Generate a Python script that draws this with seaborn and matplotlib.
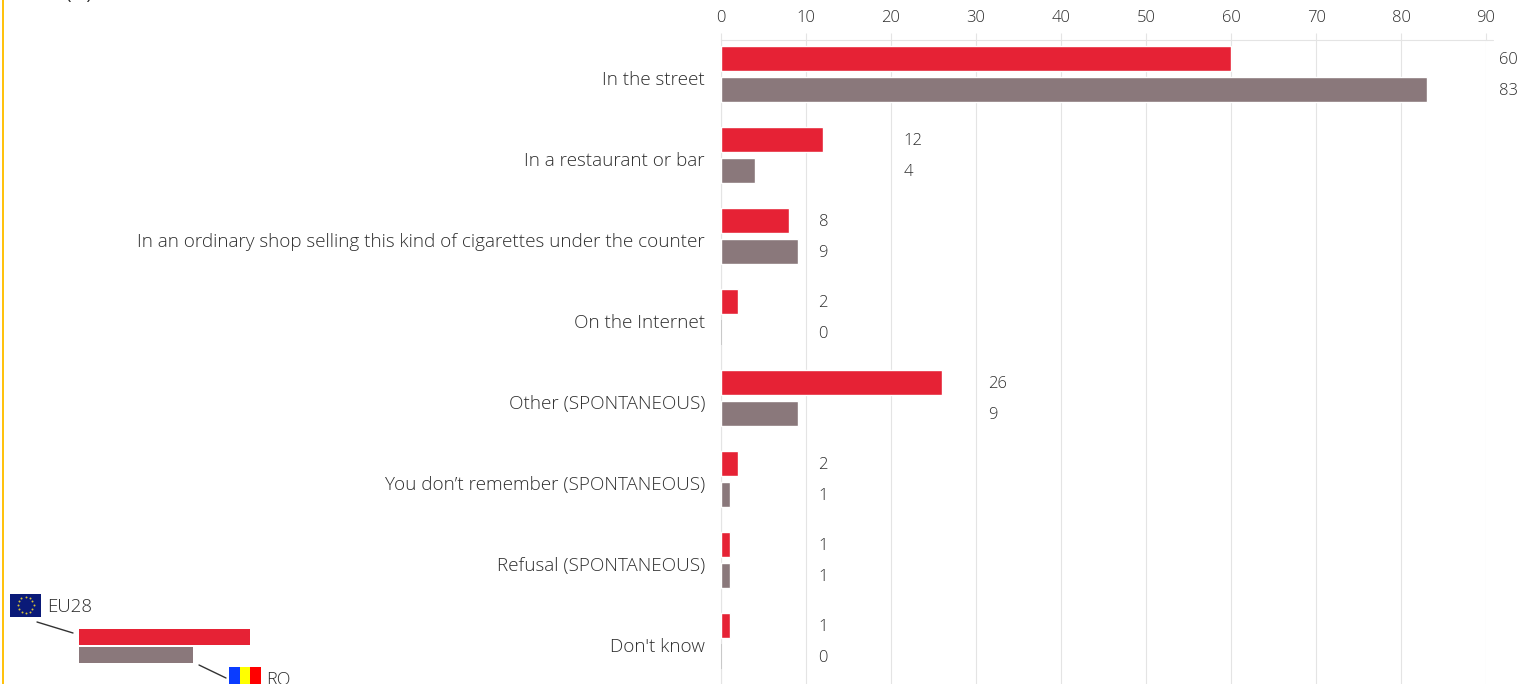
import math
import numpy as np
import pandas as pd
import matplotlib
matplotlib.use("Agg")
import matplotlib.pyplot as plt
from matplotlib.patches import Rectangle
from matplotlib.transforms import ScaledTranslation
import seaborn as sns

categories = ["In the street", "In a restaurant or bar",
              "In an ordinary shop selling this kind of cigarettes under the counter",
              "On the Internet", "Other (SPONTANEOUS)",
              "You don\u2019t remember (SPONTANEOUS)", "Refusal (SPONTANEOUS)", "Don't know"]
eu28 = [60, 12, 8, 2, 26, 2, 1, 1]
ro = [83, 4, 9, 0, 9, 1, 1, 0]
ticks = list(range(0, 100, 10))

RED, GREY, TXT, GRID = "#E62235", "#8A787B", "#2e2e2e", "#e4e4e4"
W, H = 1533, 684
sns.set_theme(style="white")
plt.rcParams["font.family"] = ["Open Sans", "DejaVu Sans"]
plt.rcParams["font.weight"] = "light"

df = pd.DataFrame({"cat": categories * 2, "val": eu28 + ro,
                   "series": ["EU28"] * 8 + ["RO"] * 8})

fig = plt.figure(figsize=(W / 100, H / 100), dpi=100, facecolor="white")
x0, x1, top = 721, 1486, 40
ax = fig.add_axes([x0 / W, 0, (x1 - x0) / W, 1 - top / H])
sns.barplot(data=df, y="cat", x="val", hue="series", order=categories, orient="h",
            palette={"EU28": RED, "RO": GREY}, width=0.765, gap=0.2,
            legend=False, ax=ax, zorder=3, saturation=1)
ax.set_xlim(0, 90)
ax.set_ylim((684 - 74) / 81, (40 - 74) / 81)
ax.set_xlabel("")
ax.set_ylabel("")
ax.xaxis.tick_top()
ax.set_xticks(ticks)
ax.tick_params(axis="x", length=5, width=0.8, color=GRID, labelsize=12, labelcolor=TXT, pad=5)
ax.tick_params(axis="y", length=0, labelsize=13.6, labelcolor=TXT, pad=11.5)
ax.grid(axis="x", color=GRID, lw=0.8, zorder=0)
ax.set_axisbelow(True)
for s in ["right", "bottom"]:
    ax.spines[s].set_visible(False)
for s in ["top", "left"]:
    ax.spines[s].set_color(GRID)
    ax.spines[s].set_linewidth(0.8)

shift = ScaledTranslation(0, -3 / 72, fig.dpi_scale_trans)
for lab in ax.get_yticklabels():
    lab.set_transform(lab.get_transform() + shift)

for p in ax.patches:
    if p.get_width() == 0 and p.get_height() > 0:
        p.set_edgecolor("#c4c4c4")
        p.set_linewidth(1.2)

# value labels sit just past the next ten-gridline of each group
for i, (a, b) in enumerate(zip(eu28, ro)):
    anchor = math.ceil(max(a, b, 1) / 10) * 10
    for v, off in ((a, -0.19), (b, 0.19)):
        ax.annotate(str(v), (anchor, i + off), xytext=(9.0, -1.0), textcoords="offset points",
                    va="center", ha="left", fontsize=12, color=TXT, annotation_clip=False)

# overlay in pixel coordinates for legend key and page furniture
ov = fig.add_axes([0, 0, 1, 1], zorder=5)
ov.set_xlim(0, W)
ov.set_ylim(H, 0)
ov.axis("off")
ov.patch.set_alpha(0)
ov.plot([x1, 1493], [top, top], color=GRID, lw=0.8)
ov.add_patch(Rectangle((1.5, 0), 2.5, H, color="#FFC20E", lw=0))
ov.text(65, 3, "(%)", fontsize=13.6, color=TXT, va="bottom", ha="left", weight="normal", clip_on=False)

ov.add_patch(Rectangle((79, 629), 171, 16, color=RED, lw=0))
ov.add_patch(Rectangle((79, 647), 114, 16, color=GREY, lw=0))
ov.plot([37, 73], [622, 633], color="#333333", lw=1)
ov.plot([199, 226], [665, 678], color="#333333", lw=1)
# EU flag
ov.add_patch(Rectangle((10, 594), 31, 22.5, color="#0A1A78", lw=0))
ang = np.arange(12) * np.pi / 6
ov.scatter(25.5 + 8 * np.cos(ang), 605 + 8 * np.sin(ang), s=2, color="#D8C23A", lw=0, zorder=4)
ov.text(47, 607.5, "EU28", fontsize=13.4, color=TXT, va="center", ha="left")
# RO flag
for xs, c in ((229, "#0A3CFF"), (239.5, "#FFFF00"), (250, "#FF0000")):
    ov.add_patch(Rectangle((xs, 667), 10.5, 20, color=c, lw=0))
ov.text(266, 680, "RO", fontsize=13, color=TXT, va="center", ha="left")

fig.savefig("out.png", dpi=100)
